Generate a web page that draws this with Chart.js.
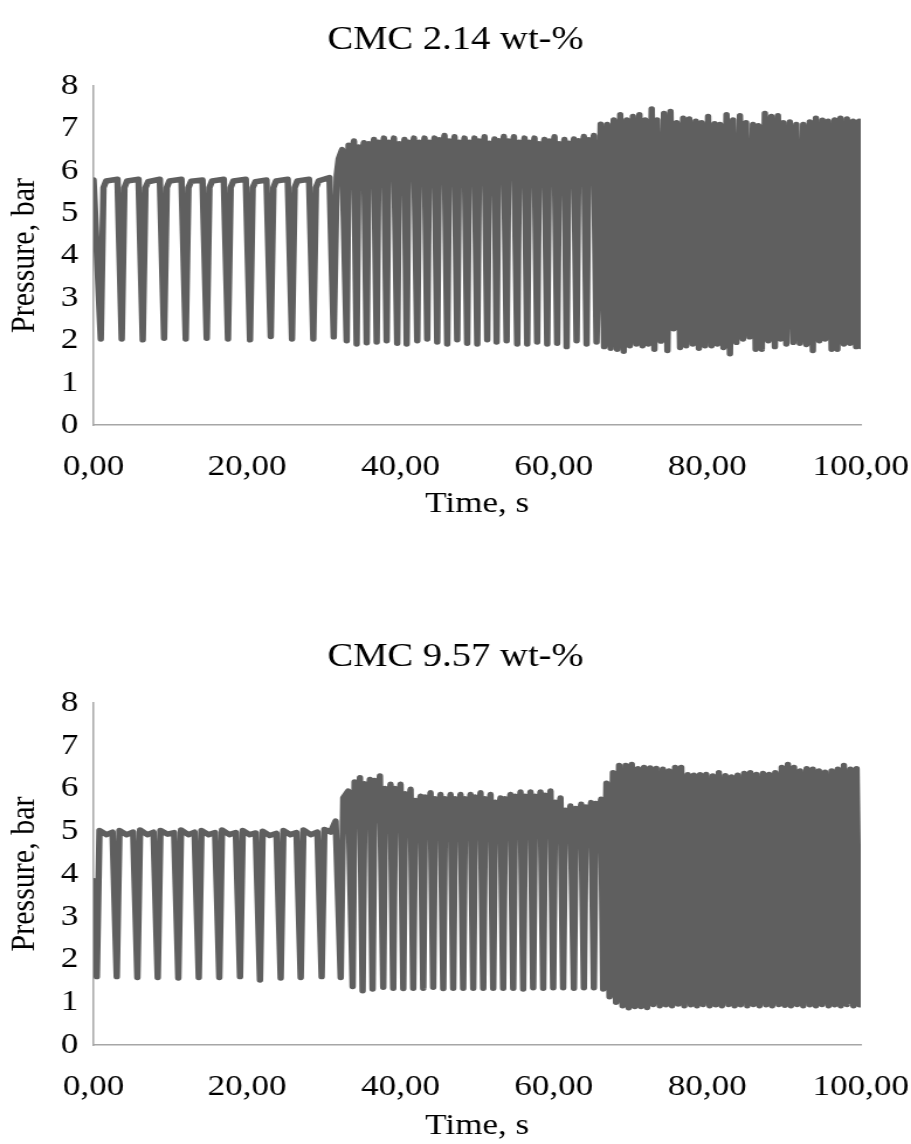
<!DOCTYPE html>
<html>
<head>
<meta charset="utf-8">
<title>CMC pressure</title>
<script src="https://cdn.jsdelivr.net/npm/chart.js@4.4.0/dist/chart.umd.min.js"></script>
<style>
    html, body { margin: 0; padding: 0; background: #fff; }
    body { width: 911px; height: 1144px; position: relative; overflow: hidden; }
    /* the original picture is stretched sideways a little, so the canvases are too */
    .wrap { position: absolute; left: 0; width: 779px; transform: scaleX(1.1695); transform-origin: 0 0; }
    #box1 { top: 0; height: 560px; }
    #box2 { top: 596px; height: 548px; }
</style>
</head>
<body>
<div class="wrap" id="box1"><canvas id="myChart1" width="779" height="560"></canvas></div>
<div class="wrap" id="box2"><canvas id="myChart2" width="779" height="548"></canvas></div>
<script>
// CMC 2.14 wt-% : time (s) and pressure (bar)
const topTime = [
    0,
    0.94, 1.29, 1.64, 3.12,
    3.67, 4.02, 4.37, 5.86,
    6.41, 6.76, 7.11, 8.64,
    9.19, 9.54, 9.89, 11.46,
    12.01, 12.36, 12.71, 14.2,
    14.75, 15.1, 15.45, 16.97,
    17.52, 17.87, 18.22, 19.84,
    20.39, 20.74, 21.09, 22.54,
    23.09, 23.44, 23.79, 25.31,
    25.86, 26.21, 26.56, 28.09,
    28.64, 28.99, 29.34, 30.75,
    31.3, 31.7, 31.95, 32.4,
    32.99, 33.24, 33.59, 33.94,
    34.29, 34.54, 34.89, 35.24,
    35.6, 35.85, 36.2, 36.55,
    36.9, 37.15, 37.5, 37.85,
    38.2, 38.45, 38.8, 39.15,
    39.58, 39.83, 40.18, 40.53,
    40.81, 41.06, 41.41, 41.76,
    42.19, 42.44, 42.79, 43.14,
    43.49, 43.74, 44.09, 44.44,
    44.79, 45.04, 45.39, 45.74,
    46.1, 46.35, 46.7, 47.05,
    47.4, 47.65, 48.0, 48.35,
    48.7, 48.95, 49.3, 49.65,
    50.01, 50.26, 50.61, 50.96,
    51.31, 51.56, 51.91, 52.26,
    52.53, 52.78, 53.13, 53.48,
    53.84, 54.09, 54.44, 54.79,
    55.22, 55.47, 55.82, 56.17,
    56.52, 56.77, 57.12, 57.47,
    57.82, 58.07, 58.42, 58.77,
    59.13, 59.38, 59.73, 60.08,
    60.43, 60.68, 61.03, 61.38,
    61.66, 61.91, 62.26, 62.61,
    62.96, 63.21, 63.56, 63.91,
    64.26, 64.51, 64.86, 65.21,
    65.56, 66.1, 66.55, 66.95, 67.4, 67.8, 68.25, 68.65,
    69.1, 69.5, 69.9, 70.3, 70.75, 71.15, 71.55, 71.9,
    72.3, 72.75, 73.1, 73.45, 73.95, 74.35, 74.8, 75.2,
    75.6, 76.0, 76.45, 76.85, 77.25, 77.65, 78.1, 78.5,
    78.9, 79.25, 79.7, 80.1, 80.55, 80.95, 81.3, 81.65,
    82.1, 82.5, 82.95, 83.35, 83.8, 84.25, 84.65, 85.05,
    85.5, 85.95, 86.3, 86.65, 87.1, 87.5, 87.95, 88.35,
    88.8, 89.2, 89.55, 89.9, 90.3, 90.75, 91.2, 91.6,
    92.05, 92.5, 92.9, 93.35, 93.75, 94.15, 94.6, 95.0,
    95.35, 95.75, 96.2, 96.6, 96.95, 97.35, 97.8, 98.2,
    98.6, 99.0, 99.4, 99.8, 100
];
const topPressure = [
    5.78,
    2.03, 5.6, 5.76, 5.8,
    2.03, 5.6, 5.76, 5.8,
    2.01, 5.6, 5.74, 5.8,
    2.05, 5.6, 5.76, 5.8,
    2.03, 5.6, 5.75, 5.78,
    2.05, 5.6, 5.76, 5.8,
    2.03, 5.6, 5.76, 5.8,
    2.01, 5.6, 5.74, 5.78,
    2.09, 5.6, 5.76, 5.8,
    2.03, 5.6, 5.76, 5.8,
    2.03, 5.6, 5.76, 5.84,
    2.08, 5.9, 6.28, 6.5,
    1.99, 6.6, 6.3, 6.70,
    1.91, 6.56, 6.3, 6.66,
    1.94, 6.64, 6.3, 6.74,
    1.96, 6.67, 6.3, 6.77,
    1.99, 6.67, 6.3, 6.77,
    1.93, 6.64, 6.3, 6.74,
    1.91, 6.67, 6.3, 6.77,
    1.99, 6.67, 6.3, 6.77,
    2.03, 6.67, 6.3, 6.77,
    1.96, 6.73, 6.3, 6.83,
    1.91, 6.70, 6.3, 6.80,
    2.01, 6.67, 6.3, 6.77,
    1.93, 6.67, 6.3, 6.77,
    1.91, 6.70, 6.3, 6.80,
    2.01, 6.65, 6.3, 6.75,
    1.96, 6.71, 6.3, 6.81,
    1.99, 6.70, 6.3, 6.80,
    1.91, 6.67, 6.3, 6.77,
    1.91, 6.67, 6.3, 6.77,
    1.96, 6.64, 6.3, 6.74,
    1.91, 6.70, 6.3, 6.80,
    1.93, 6.64, 6.3, 6.74,
    1.85, 6.65, 6.3, 6.75,
    1.99, 6.71, 6.3, 6.81,
    1.91, 6.73, 6.3, 6.83,
    1.96, 7.10, 1.85, 7.09, 1.81, 7.20, 1.79, 7.32,
    1.74, 7.20, 1.87, 7.28, 1.91, 7.32, 1.87, 7.20,
    1.91, 7.46, 1.79, 7.20, 1.98, 7.35, 1.76, 7.40,
    2.27, 7.13, 1.83, 7.24, 1.87, 7.22, 1.91, 7.17,
    1.81, 7.13, 1.87, 7.28, 1.87, 7.11, 1.91, 7.09,
    1.83, 7.32, 1.68, 7.20, 1.95, 7.30, 2.03, 7.13,
    2.08, 7.09, 1.79, 7.06, 1.79, 7.35, 1.99, 7.28,
    1.85, 7.30, 2.03, 7.13, 1.91, 7.15, 1.95, 7.09,
    1.93, 7.09, 1.90, 7.15, 1.76, 7.24, 1.99, 7.19,
    2.03, 7.17, 1.79, 7.20, 1.79, 7.24, 1.91, 7.22,
    1.93, 7.17, 1.85, 7.17, 1.85
];

// CMC 9.57 wt-%
const bottomTime = [
    0,
    0.42, 0.77, 1.7, 2.47,
    3.02, 3.37, 4.3, 5.16,
    5.71, 6.06, 7.0, 7.81,
    8.36, 8.71, 9.65, 10.5,
    11.05, 11.4, 12.35, 13.16,
    13.71, 14.06, 15.0, 15.84,
    16.39, 16.74, 17.7, 18.54,
    19.09, 19.44, 20.35, 21.14,
    21.69, 22.04, 22.95, 23.84,
    24.39, 24.74, 25.65, 26.45,
    27.0, 27.35, 28.3, 29.18,
    29.73, 30.08, 30.9, 31.55,
    32.21, 32.55, 33.2,
    33.77, 34.02, 34.37, 34.72,
    35.07, 35.32, 35.67, 36.02,
    36.37, 36.62, 36.97, 37.32,
    37.76, 38.01, 38.36, 38.71,
    39.06, 39.31, 39.66, 40.01,
    40.37, 40.62, 40.97, 41.32,
    41.67, 41.92, 42.27, 42.62,
    42.97, 43.22, 43.57, 43.92,
    44.27, 44.52, 44.87, 45.22,
    45.58, 45.83, 46.18, 46.53,
    46.88, 47.13, 47.48, 47.83,
    48.18, 48.43, 48.78, 49.13,
    49.49, 49.74, 50.09, 50.44,
    50.79, 51.04, 51.39, 51.74,
    52.09, 52.34, 52.69, 53.04,
    53.39, 53.64, 53.99, 54.34,
    54.7, 54.95, 55.3, 55.65,
    56.0, 56.25, 56.6, 56.95,
    57.3, 57.55, 57.9, 58.25,
    58.61, 58.86, 59.21, 59.56,
    59.91, 60.16, 60.51, 60.86,
    61.21, 61.46, 61.81, 62.16,
    62.61, 62.86, 63.21, 63.56,
    63.91, 64.16, 64.51, 64.86,
    65.21, 65.46, 65.81, 66.16,
    66.42, 66.85, 67.25, 67.7, 68.1, 68.5, 68.95, 69.35,
    69.75, 70.15, 70.55, 70.95, 71.35, 71.75, 72.15, 72.55,
    72.95, 73.35, 73.8, 74.2, 74.6, 75.0, 75.4, 75.8,
    76.2, 76.6, 77.0, 77.45, 77.85, 78.25, 78.65, 79.05,
    79.45, 79.85, 80.3, 80.7, 81.1, 81.5, 81.9, 82.35,
    82.75, 83.15, 83.55, 83.95, 84.35, 84.8, 85.2, 85.6,
    86.0, 86.4, 86.8, 87.25, 87.65, 88.05, 88.45, 88.85,
    89.3, 89.7, 90.1, 90.5, 90.9, 91.3, 91.7, 92.1,
    92.5, 92.95, 93.35, 93.75, 94.15, 94.55, 94.95, 95.35,
    95.8, 96.2, 96.6, 97.0, 97.4, 97.8, 98.2, 98.65,
    99.05, 99.45, 99.85
];
const bottomPressure = [
    3.84,
    1.60, 5.02, 4.92, 4.98,
    1.60, 5.02, 4.92, 4.98,
    1.58, 5.03, 4.92, 4.98,
    1.58, 5.02, 4.93, 4.97,
    1.57, 5.03, 4.92, 4.98,
    1.58, 5.02, 4.92, 4.97,
    1.58, 5.03, 4.92, 4.97,
    1.60, 5.02, 4.92, 4.96,
    1.52, 5.00, 4.90, 4.95,
    1.57, 5.02, 4.92, 4.97,
    1.58, 5.03, 4.92, 4.98,
    1.60, 5.04, 4.98, 5.24,
    1.58, 5.78, 5.94,
    1.37, 6.15, 5.25, 6.25,
    1.27, 6.11, 5.25, 6.21,
    1.31, 6.19, 5.25, 6.29,
    1.35, 6.00, 5.25, 6.10,
    1.33, 6.00, 5.25, 6.10,
    1.32, 5.88, 5.25, 5.98,
    1.33, 5.72, 5.25, 5.82,
    1.33, 5.80, 5.25, 5.90,
    1.35, 5.76, 5.25, 5.86,
    1.32, 5.76, 5.25, 5.86,
    1.33, 5.76, 5.25, 5.86,
    1.33, 5.76, 5.25, 5.86,
    1.33, 5.80, 5.25, 5.90,
    1.33, 5.76, 5.25, 5.86,
    1.33, 5.68, 5.25, 5.78,
    1.33, 5.76, 5.25, 5.86,
    1.33, 5.82, 5.25, 5.92,
    1.31, 5.82, 5.25, 5.92,
    1.34, 5.82, 5.25, 5.92,
    1.33, 5.84, 5.25, 5.94,
    1.34, 5.68, 5.25, 5.78,
    1.34, 5.49, 5.15, 5.59,
    1.33, 5.53, 5.15, 5.63,
    1.34, 5.57, 5.20, 5.67,
    1.34, 5.65, 5.25, 5.75,
    1.31, 6.12, 1.13, 6.37, 1.00, 6.54, 0.92, 6.54,
    0.87, 6.56, 0.90, 6.46, 0.90, 6.49, 0.88, 6.48,
    0.95, 6.47, 0.92, 6.45, 0.94, 6.41, 0.92, 6.49,
    0.96, 6.49, 0.92, 6.32, 0.94, 6.31, 0.92, 6.32,
    0.95, 6.33, 0.92, 6.29, 0.94, 6.37, 0.92, 6.30,
    0.95, 6.27, 0.92, 6.31, 0.94, 6.35, 0.92, 6.37,
    0.95, 6.33, 0.92, 6.35, 0.94, 6.33, 0.92, 6.37,
    0.95, 6.49, 0.93, 6.56, 0.92, 6.49, 0.95, 6.41,
    0.92, 6.46, 0.94, 6.45, 0.92, 6.41, 0.95, 6.38,
    0.92, 6.41, 0.94, 6.45, 0.92, 6.54, 0.95, 6.45,
    0.92, 6.46, 0.94
];

const timeTicks = [0, 20, 40, 60, 80, 100];
const pressureTicks = [0, 1, 2, 3, 4, 5, 6, 7, 8];

const serif = "'Liberation Serif', 'Times New Roman', serif";
const lineColor = '#5f5f5f';
const axisColor = '#a6a6a6';

function toPoints(time, pressure) {
    const n = Math.min(time.length, pressure.length);
    const pts = [];
    for (let i = 0; i < n; i++) {
        pts.push({ x: time[i], y: pressure[i] });
    }
    return pts;
}

function makeConfig(titleText, time, pressure, titleTop, bottomPad, xTitleBottom) {
    return {
        type: 'line',
        data: {
            datasets: [{
                data: toPoints(time, pressure),
                borderColor: lineColor,
                borderWidth: 5.5,
                borderJoinStyle: 'round',
                borderCapStyle: 'round',
                pointRadius: 0,
                tension: 0,
                fill: false
            }]
        },
        options: {
            responsive: false,
            animation: false,
            events: [],
            layout: {
                padding: { left: 0, right: 0, top: 0, bottom: bottomPad }
            },
            plugins: {
                legend: { display: false },
                tooltip: { enabled: false },
                title: {
                    display: true,
                    text: titleText,
                    color: '#000',
                    font: { family: serif, size: 33, weight: 'normal', lineHeight: 1.2 },
                    padding: { top: titleTop, bottom: 26.2 }
                }
            },
            scales: {
                x: {
                    type: 'linear',
                    min: timeTicks[0],
                    max: timeTicks[timeTicks.length - 1],
                    afterBuildTicks: (s) => { s.ticks = timeTicks.map(v => ({ value: v })); },
                    afterFit: (s) => {
                        s.height = 98;
                        s.paddingLeft = 0;
                        s.paddingRight = 43; // room for the last label
                    },
                    grid: { display: false, drawTicks: false },
                    border: { display: true, color: axisColor, width: 1.5 },
                    ticks: {
                        color: '#000',
                        padding: 24,
                        maxRotation: 0,
                        autoSkip: false,
                        font: { family: serif, size: 30 },
                        callback: (v) => Number(v).toFixed(2).replace('.', ',')
                    },
                    title: {
                        display: true,
                        text: 'Time, s',
                        color: '#000',
                        font: { family: serif, size: 30, lineHeight: 1 },
                        padding: { top: 0, bottom: xTitleBottom }
                    }
                },
                y: {
                    min: pressureTicks[0],
                    max: pressureTicks[pressureTicks.length - 1],
                    afterBuildTicks: (s) => { s.ticks = pressureTicks.map(v => ({ value: v })); },
                    afterFit: (s) => {
                        s.width = 80;
                        s.paddingTop = 0;
                        s.paddingBottom = 0;
                    },
                    grid: { display: false, drawTicks: false },
                    border: { display: true, color: axisColor, width: 1.5 },
                    ticks: {
                        color: '#000',
                        padding: 13,
                        font: { family: serif, size: 30 }
                    },
                    title: {
                        display: true,
                        text: 'Pressure, bar',
                        color: '#000',
                        font: { family: serif, size: 30, lineHeight: 1 },
                        padding: { top: 6.4, bottom: 0 }
                    }
                }
            }
        }
    };
}

const config1 = makeConfig('CMC 2.14 wt-%', topTime, topPressure, 20.2, 37, 4);
const config2 = makeConfig('CMC 9.57 wt-%', bottomTime, bottomPressure, 41.2, 1, 2);

const myChart1 = new Chart(document.getElementById('myChart1'), config1);
const myChart2 = new Chart(document.getElementById('myChart2'), config2);
</script>
</body>
</html>
